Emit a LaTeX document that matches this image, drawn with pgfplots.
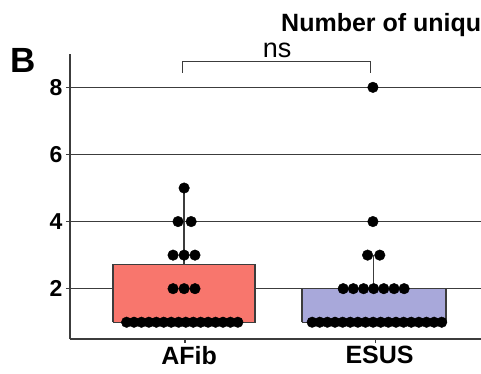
\documentclass[border=0pt]{standalone}
\usepackage{pgfplots}
\pgfplotsset{compat=1.18}
\usepackage{fontspec}
\setmainfont{Liberation Sans}
\definecolor{afib}{RGB}{248,118,109}
\definecolor{esus}{RGB}{168,168,218}
\definecolor{ln}{RGB}{60,60,60}
\begin{document}
\begin{tikzpicture}
\begin{axis}[
  at={(0pt,0pt)}, anchor=south west,
  scale only axis, width=419.9pt, height=285.2pt,
  xmin=-0.604, xmax=1.6, ymin=0.5, ymax=9,
  axis lines*=left,
  axis line style={-, draw=ln, line width=1.6pt},
  ymajorgrids, grid style={ln, line width=1.6pt},
  xtick={0,1}, xticklabels={AFib,ESUS},
  ytick={2,4,6,8},
  tick style={ln, line width=1.4pt},
  tick align=outside, major tick length=4pt,
  /pgf/number format/assume math mode=true,
  yticklabel style={font=\fontsize{23}{23}\selectfont\bfseries},
  xticklabel style={font=\fontsize{25}{25}\selectfont\bfseries, xshift=4pt},
  clip=false,
]
% boxes
\addplot[fill=afib, draw=ln, line width=1.3pt] coordinates {(-0.378,1) (0.367,1) (0.367,2.72) (-0.378,2.72) (-0.378,1)};
\addplot[fill=esus, draw=ln, line width=1.3pt] coordinates {(0.613,1) (1.369,1) (1.369,2) (0.613,2) (0.613,1)};
% whiskers
\addplot[draw=ln, line width=1.3pt] coordinates {(-0.005,2.72) (-0.005,5)};
\addplot[draw=ln, line width=1.3pt] coordinates {(0.99,2) (0.99,3)};
% AFib points
\addplot[only marks, mark=*, mark size=5.3pt, black] coordinates {
(-0.307,1) (-0.268,1) (-0.229,1) (-0.190,1) (-0.151,1) (-0.112,1) (-0.073,1) (-0.034,1)
(0.004,1) (0.043,1) (0.082,1) (0.121,1) (0.160,1) (0.199,1) (0.238,1) (0.277,1)
(-0.063,2) (-0.005,2) (0.052,2)
(-0.063,3) (-0.005,3) (0.052,3)
(-0.037,4) (0.032,4)
(-0.005,5)
};
% ESUS points
\addplot[only marks, mark=*, mark size=5.3pt, black] coordinates {
(0.667,1) (0.707,1) (0.747,1) (0.787,1) (0.827,1) (0.867,1) (0.907,1) (0.947,1) (0.987,1)
(1.027,1) (1.067,1) (1.107,1) (1.147,1) (1.187,1) (1.227,1) (1.267,1) (1.307,1) (1.347,1)
(0.83,2) (0.883,2) (0.937,2) (0.99,2) (1.043,2) (1.097,2) (1.15,2)
(0.958,3) (1.022,3)
(0.986,4)
(0.986,8)
};
% significance bracket
\addplot[draw=ln, line width=1.3pt] coordinates {(-0.015,8.44) (-0.015,8.77) (0.975,8.77) (0.975,8.44)};
\node[anchor=base, font=\fontsize{27}{27}\selectfont] at (axis cs:0.483,8.885) {ns};
\end{axis}
\node[anchor=base west, inner sep=0pt, font=\fontsize{25}{25}\selectfont\bfseries] at (211pt,307pt) {Number of unique};
\node[anchor=base west, inner sep=0pt, font=\fontsize{35}{35}\selectfont\bfseries] at (-59.5pt,267pt) {B};
\pgfresetboundingbox
\path (-70pt,-34pt) rectangle (411pt,339pt);
\end{tikzpicture}
\end{document}
